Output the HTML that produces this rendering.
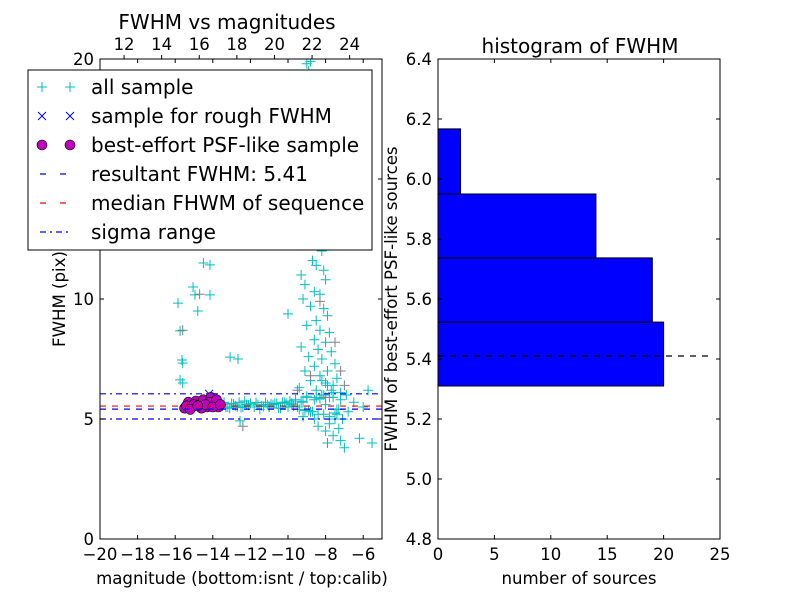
<!DOCTYPE html>
<html><head><meta charset="utf-8"><style>
body{margin:0;background:#fff}
svg{display:block;font-family:"DejaVu Sans","Liberation Sans",sans-serif}
</style></head><body>
<svg id="c" width="800" height="600" xmlns="http://www.w3.org/2000/svg"></svg>
<script>
// ---- data ----
const allMag=[-15.85,-15.74,-15.64,-15.6,-15.74,-15.6,-15.05,-14.95,-14.8,-14.15,-14.5,-14.15,-13.08,-12.66,-10.0,-5.74,-5.53,-12.55,
-9.0,-8.9,-8.8,-8.95,-8.7,-8.6,-8.4,-8.5,-8.8,-8.6,-8.3,-8.9,-8.4,-8.2,-8.7,-8.1,-9.3,-8.5,-8.0,-9.1,-8.6,-8.3,-9.2,-8.8,-8.1,-7.9,-8.5,-9.0,-8.3,-7.8,-8.6,-8.0,-9.3,-8.4,-7.7,-8.9,-8.2,-7.5,-8.6,-9.1,-7.9,-8.3,-7.4,-8.8,-8.0,-7.6,-9.4,-8.5,-7.2,-8.1,-7.8,-9.0,-6.9,-7.5,-7.8,-7.3,-8.0,-7.6,-7.2,-7.0,-7.9,-6.2,-7.4,-8.6,-9.2,-6.8,-6.5,-6.0,
-15.3,-15.0,-14.7,-14.4,-14.1,-13.8,-13.5,-13.2,-13.0,-12.8,-12.6,-12.4,-12.2,-12.0,-11.8,-11.6,-11.4,-11.2,-11.0,-10.8,-10.6,-10.4,-10.2,-10.0,-9.8,-9.6,-9.4,-9.2,-9.0,-8.8,-8.6,-8.4,-8.2,-8.0,-7.8,-7.6,-7.4,-7.2,-13.1,-12.3,-11.5,-10.7,-9.9,-9.1,-8.3,-7.5,-12.7,-11.1,-10.3,-9.5,
-13.3,-12.9,-12.5,-12.1,-11.7,-11.3,-10.9,-10.5,-10.1,-9.7,-9.3,-8.9,-8.5,-8.1,-7.7,-7.3,-13.4,-12.2,-11.0,-9.8,-8.7,-7.9,-7.1,-8.4,-8.2,-7.6];
const allFwhm=[9.83,8.67,7.46,7.33,6.63,6.5,10.5,10.17,9.5,10.17,11.5,11.42,7.58,7.5,9.38,6.2,4.0,4.92,
19.8,19.5,19.9,18.9,17.8,17.2,16.4,15.6,15.0,14.3,13.7,13.0,12.5,12.0,11.6,11.2,11.0,11.4,10.8,10.6,10.3,10.2,10.0,9.7,9.6,9.3,9.1,8.9,8.7,8.6,8.3,8.2,8.0,7.9,7.8,7.6,7.5,7.3,7.2,7.0,7.0,6.8,6.7,6.6,6.5,6.4,6.3,6.2,6.1,6.0,5.9,5.95,6.0,5.0,4.8,4.6,4.5,4.3,4.1,3.8,4.0,4.2,5.2,5.0,5.1,5.3,5.7,5.5,
5.6,5.5,5.7,5.6,5.5,5.7,5.6,5.5,5.65,5.55,5.7,5.5,5.6,5.65,5.5,5.6,5.55,5.7,5.5,5.6,5.65,5.45,5.7,5.5,5.6,5.8,5.4,5.7,5.9,5.3,5.8,5.2,6.0,5.6,5.1,6.1,5.4,5.8,5.45,5.75,5.4,5.65,5.75,5.35,5.85,5.25,5.5,5.6,5.7,5.5,
5.5,5.62,5.48,5.58,5.68,5.52,5.62,5.46,5.66,5.54,5.74,5.36,5.9,5.2,6.2,5.4,5.7,5.6,5.52,5.66,5.3,6.4,5.0,4.7,6.6,5.9];
const grayMag=[-15.6,-14.7,-12.4,-8.3,-7.5,-9.5,-7.2,-8.0,-7.0,-8.8];
const grayFwhm=[8.7,10.2,4.7,9.9,8.2,6.2,7.0,5.9,6.4,6.8];
const roughMag=[-14.2,-15.3,-14.8,-14.0,-13.7];
const roughFwhm=[6.05,5.6,5.7,5.8,5.5];
const bestMag=[-15.5,-15.3,-15.1,-14.9,-14.7,-14.5,-14.3,-14.1,-13.9,-13.7,-15.4,-15.0,-14.6,-14.2,-13.8,-14.4,-14.0,-15.2,-14.8,-13.6];
const bestFwhm=[5.45,5.7,5.5,5.75,5.6,5.8,5.5,5.9,5.65,5.5,5.55,5.6,5.45,5.7,5.8,5.6,5.5,5.4,5.55,5.6];
const resultFwhm=5.41, medianFwhm=5.54, sigmaLo=5.0, sigmaHi=6.05;
const binEdges=[5.31,5.523,5.737,5.95,6.167];
const binCounts=[20,19,14,2];
const xTicksL=[-20,-18,-16,-14,-12,-10,-8,-6];
const topTicks=[12,14,16,18,20,22,24];
const yTicksL=[0,5,10,15,20];
const xTicksR=[0,5,10,15,20,25];
const yTicksR=[4.8,5.0,5.2,5.4,5.6,5.8,6.0,6.2,6.4];
// ---- scales ----
const L={x0:100,x1:382,y0:59,y1:539,xmin:-20,xmax:-5,ymin:0,ymax:20};
const R={x0:438,x1:720,y0:59,y1:539,xmin:0,xmax:25,ymin:4.8,ymax:6.4};
const TOFF=30.72;
const lx=v=>L.x0+(v-L.xmin)/(L.xmax-L.xmin)*(L.x1-L.x0);
const ly=v=>L.y1-(v-L.ymin)/(L.ymax-L.ymin)*(L.y1-L.y0);
const rx=v=>R.x0+(v-R.xmin)/(R.xmax-R.xmin)*(R.x1-R.x0);
const ry=v=>R.y1-(v-R.ymin)/(R.ymax-R.ymin)*(R.y1-R.y0);
const svg=document.getElementById('c');
const NS='http://www.w3.org/2000/svg';
function mk(t,a,p){const e=document.createElementNS(NS,t);for(const k in a)e.setAttribute(k,a[k]);(p||svg).appendChild(e);return e;}
function txt(x,y,s,size,anchor,p){const e=mk('text',{x:x,y:y,'font-size':size,'text-anchor':anchor||'middle',fill:'#000'},p);e.textContent=s;return e;}
// left axes
const gL=mk('g',{});


mk('rect',{x:L.x0,y:L.y0,width:L.x1-L.x0,height:L.y1-L.y0,fill:'#fff'},gL);
const clipL=mk('clipPath',{id:'cl'});mk('rect',{x:L.x0,y:L.y0,width:L.x1-L.x0,height:L.y1-L.y0},clipL);
const pts=mk('g',{'clip-path':'url(#cl)'},gL);
function plus(x,y,col,p){const g=mk('path',{d:`M${x-5} ${y}H${x+5}M${x} ${y-5}V${y+5}`,stroke:col,'stroke-width':1,fill:'none'},p);return g;}
const gAll=mk('g',{},pts);


for(let i=0;i<allMag.length;i++){const e=plus(lx(allMag[i]),ly(allFwhm[i]),'#00bfbf',gAll);}
const gGray=mk('g',{},pts);


for(let i=0;i<grayMag.length;i++){const e=plus(lx(grayMag[i]),ly(grayFwhm[i]),'#808080',gGray);}
const gRough=mk('g',{},pts);


for(let i=0;i<roughMag.length;i++){const x=lx(roughMag[i]),y=ly(roughFwhm[i]);const e=mk('path',{d:`M${x-4} ${y-4}L${x+4} ${y+4}M${x-4} ${y+4}L${x+4} ${y-4}`,stroke:'#0000ff','stroke-width':1},gRough);}
const gBest=mk('g',{},pts);


for(let i=0;i<bestMag.length;i++){const e=mk('circle',{cx:lx(bestMag[i]),cy:ly(bestFwhm[i]),r:5,fill:'#bf00bf',stroke:'#000','stroke-width':0.6},gBest);}
function hline(v,col,dash,name){const e=mk('line',{x1:L.x0,x2:L.x1,y1:ly(v),y2:ly(v),stroke:col,'stroke-width':1.2,'stroke-dasharray':dash},pts);}
hline(sigmaHi,'#0000ff','6 4 2 4','sigma-high-line');
hline(sigmaLo,'#0000ff','6 4 2 4','sigma-low-line');
hline(medianFwhm,'#ff0000','6 6','median-line');
hline(resultFwhm,'#0000ff','6 6','resultant-line');
mk('rect',{x:L.x0,y:L.y0,width:L.x1-L.x0,height:L.y1-L.y0,fill:'none',stroke:'#000','stroke-width':1},gL);
xTicksL.forEach(v=>{const x=lx(v);mk('path',{d:`M${x} ${L.y1}v-4M${x} ${L.y0}v4`,stroke:'#000'},gL);txt(x,L.y1+21,(v<0?'\u2212':'')+Math.abs(v),16.5,'middle',gL);});
topTicks.forEach(v=>{const x=lx(v-TOFF);mk('path',{d:`M${x} ${L.y0}v-4`,stroke:'#000'},gL);txt(x,L.y0-9,String(v),16.5,'middle',gL);});
yTicksL.forEach(v=>{const y=ly(v);mk('path',{d:`M${L.x0} ${y}h4M${L.x1} ${y}h-4`,stroke:'#000'},gL);txt(L.x0-6,y+6,String(v),16.5,'end',gL);});
const t1=txt(227,29,'FWHM vs magnitudes',20,'middle');
const xl=txt(242,584,'magnitude (bottom:isnt / top:calib)',16.6,'middle');
const yl=txt(0,0,'FWHM (pix)',16.6,'middle');yl.setAttribute('transform','translate(65,299) rotate(-90)');
// legend
const lg=mk('g',{});


mk('rect',{x:28,y:70,width:344,height:180,fill:'#fff',stroke:'#000','stroke-width':1},lg);
const labels=['all sample','sample for rough FWHM','best-effort PSF-like sample','resultant FWHM: 5.41','median FHWM of sequence','sigma range'];
labels.forEach((s,i)=>{const y=87+i*29;
 if(i==0){plus(42,y,'#00bfbf',lg);plus(70,y,'#00bfbf',lg);}
 if(i==1){[42,70].forEach(x=>mk('path',{d:`M${x-4} ${y-4}L${x+4} ${y+4}M${x-4} ${y+4}L${x+4} ${y-4}`,stroke:'#0000ff'},lg));}
 if(i==2){[42,70].forEach(x=>mk('circle',{cx:x,cy:y,r:5,fill:'#bf00bf',stroke:'#000','stroke-width':0.6},lg));}
 if(i==3)mk('line',{x1:40,x2:72,y1:y,y2:y,stroke:'#0000ff','stroke-width':1.2,'stroke-dasharray':'6 14'},lg);
 if(i==4)mk('line',{x1:40,x2:72,y1:y,y2:y,stroke:'#ff0000','stroke-width':1.2,'stroke-dasharray':'6 14'},lg);
 if(i==5)mk('line',{x1:40,x2:72,y1:y,y2:y,stroke:'#0000ff','stroke-width':1.2,'stroke-dasharray':'6 4 2 4'},lg);
 const e=txt(91,y+7,s,20,'start',lg);});
// right histogram
const gR=mk('g',{});


for(let i=0;i<binCounts.length;i++){const y=ry(binEdges[i+1]),h=ry(binEdges[i])-y;const e=mk('rect',{x:rx(0),y:y,width:rx(binCounts[i])-rx(0),height:h,fill:'#0000ff',stroke:'#000','stroke-width':1},gR);}
const dl=mk('line',{x1:R.x0,x2:rx(24.2),y1:ry(resultFwhm),y2:ry(resultFwhm),stroke:'#000','stroke-width':1.2,'stroke-dasharray':'6 6'},gR);


mk('rect',{x:R.x0,y:R.y0,width:R.x1-R.x0,height:R.y1-R.y0,fill:'none',stroke:'#000','stroke-width':1},gR);
xTicksR.forEach(v=>{const x=rx(v);mk('path',{d:`M${x} ${R.y1}v-4M${x} ${R.y0}v4`,stroke:'#000'},gR);txt(x,R.y1+21,String(v),16.5,'middle',gR);});
yTicksR.forEach(v=>{const y=ry(v);mk('path',{d:`M${R.x0} ${y}h4M${R.x1} ${y}h-4`,stroke:'#000'},gR);txt(R.x0-6,y+6,v.toFixed(1),16.5,'end',gR);});
const t2=txt(580,53,'histogram of FWHM',20,'middle');
const xr=txt(579,584,'number of sources',16.6,'middle');
const yr=txt(0,0,'FWHM of best-effort PSF-like sources',16.6,'middle');yr.setAttribute('transform','translate(397,299) rotate(-90)');
</script>
</body></html>
